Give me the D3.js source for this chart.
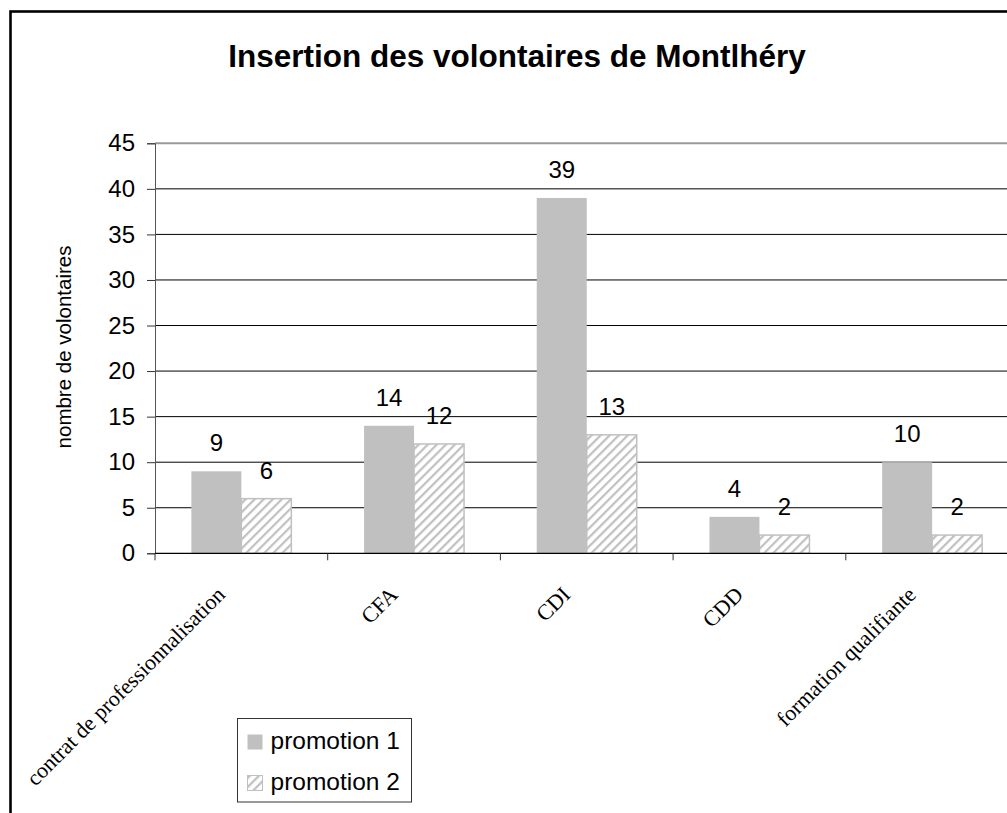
<!DOCTYPE html>
<html>
<head>
<meta charset="utf-8">
<script src="https://cdn.jsdelivr.net/npm/d3@7"></script>
<style>
  html, body { margin: 0; padding: 0; background: #fff; overflow: hidden; }
  svg { display: block; }
</style>
</head>
<body>
<div id="chart"></div>
<script>
const categories = ["contrat de professionnalisation", "CFA", "CDI", "CDD", "formation qualifiante"];
const seriesNames = ["promotion 1", "promotion 2"];
const promotion1 = [9, 14, 39, 4, 10];
const promotion2 = [6, 12, 13, 2, 2];
const yTicks = [0, 5, 10, 15, 20, 25, 30, 35, 40, 45];

const width = 1007, height = 813;
const plot = {left: 155, right: 1018.5, top: 143.3, bottom: 553.3};

const svg = d3.select("#chart").append("svg")
  .attr("width", width)
  .attr("height", height);

// hatch for promotion 2
const defs = svg.append("defs");
const pat = defs.append("pattern")
  .attr("id", "hatch")
  .attr("patternUnits", "userSpaceOnUse")
  .attr("width", 6.4)
  .attr("height", 6.4)
  .attr("patternTransform", "rotate(45)");
pat.append("rect").attr("width", 6.4).attr("height", 6.4).attr("fill", "#fff");
pat.append("rect").attr("x", 0).attr("width", 2.2).attr("height", 6.4).attr("fill", "#c0c0c0");

// outer frame
svg.append("rect")
  .attr("x", 10.5).attr("y", 11.5)
  .attr("width", 1014).attr("height", 830)
  .attr("fill", "none")
  .attr("stroke", "#000")
  .attr("stroke-width", 2.6);

svg.append("text")
  .attr("x", 517).attr("y", 66.7)
  .attr("text-anchor", "middle")
  .attr("font-family", "Arial, 'Liberation Sans', sans-serif")
  .attr("font-weight", "bold")
  .attr("font-size", 31.5)
  .text("Insertion des volontaires de Montlhéry");

const x = d3.scaleBand().domain(categories).range([plot.left, plot.right]).paddingInner(0).paddingOuter(0);
const xs = d3.scaleBand().domain(seriesNames).range([0, x.bandwidth()]).paddingInner(0).paddingOuter(0.727);
const y = d3.scaleLinear().domain([0, 45]).range([plot.bottom, plot.top]);

// gridlines
svg.append("g").selectAll("line")
  .data(yTicks.filter(d => d > 0 && d < 45))
  .join("line")
  .attr("x1", plot.left).attr("x2", plot.right)
  .attr("y1", d => y(d)).attr("y2", d => y(d))
  .attr("stroke", "#000")
  .attr("stroke-width", 1);

// plot top border
svg.append("line")
  .attr("x1", plot.left).attr("x2", plot.right)
  .attr("y1", y(45)).attr("y2", y(45))
  .attr("stroke", "#999").attr("stroke-width", 2);

// bars
const groups = svg.append("g").selectAll("g")
  .data(categories)
  .join("g")
  .attr("transform", d => "translate(" + x(d) + ",0)");

const barData = (c, i) => [
  {s: seriesNames[0], v: promotion1[i]},
  {s: seriesNames[1], v: promotion2[i]}
];

groups.selectAll("rect")
  .data(barData)
  .join("rect")
  .attr("x", d => xs(d.s))
  .attr("width", xs.bandwidth())
  .attr("y", d => y(d.v))
  .attr("height", d => y(0) - y(d.v))
  .attr("fill", d => d.s === seriesNames[0] ? "#c0c0c0" : "url(#hatch)")
  .attr("stroke", d => d.s === seriesNames[0] ? "none" : "#c0c0c0")
  .attr("stroke-width", 1.5);

groups.selectAll("text")
  .data(barData)
  .join("text")
  .attr("x", d => xs(d.s) + xs.bandwidth() / 2)
  .attr("y", d => y(d.v) - 20)
  .attr("text-anchor", "middle")
  .attr("font-family", "Arial, 'Liberation Sans', sans-serif")
  .attr("font-size", 24)
  .text(d => d.v);

// y axis
const yAxis = svg.append("g")
  .attr("transform", "translate(" + plot.left + ",0)")
  .call(d3.axisLeft(y).tickValues(yTicks).tickSize(8).tickPadding(12));
yAxis.select(".domain").attr("stroke", "#555");
yAxis.selectAll(".tick line").attr("stroke", "#333");
yAxis.selectAll(".tick text")
  .attr("font-family", "Arial, 'Liberation Sans', sans-serif")
  .attr("font-size", 24)
  .attr("fill", "#000");

svg.append("text")
  .attr("transform", "translate(71,347) rotate(-90)")
  .attr("text-anchor", "middle")
  .attr("font-family", "Arial, 'Liberation Sans', sans-serif")
  .attr("font-size", 20.5)
  .text("nombre de volontaires");

// x axis
svg.append("line")
  .attr("x1", plot.left).attr("x2", plot.right)
  .attr("y1", y(0)).attr("y2", y(0))
  .attr("stroke", "#000").attr("stroke-width", 1.2);
svg.append("g").selectAll("line")
  .data(categories.map(c => x(c)).concat([plot.right]))
  .join("line")
  .attr("x1", d => d).attr("x2", d => d)
  .attr("y1", y(0)).attr("y2", y(0) + 7)
  .attr("stroke", "#333");

svg.append("g").selectAll("text")
  .data(categories)
  .join("text")
  .attr("transform", d => "translate(" + (x(d) + x.bandwidth() / 2 - 15) + ",596) rotate(-45)")
  .attr("text-anchor", "end")
  .attr("font-family", "'Times New Roman', 'Liberation Serif', serif")
  .attr("font-size", 22)
  .text(d => d);

// legend
const legend = svg.append("g").attr("transform", "translate(237.5,718.5)");
legend.append("rect")
  .attr("width", 174).attr("height", 83.5)
  .attr("fill", "#fff").attr("stroke", "#333").attr("stroke-width", 1);
const items = legend.selectAll("g.item")
  .data(seriesNames)
  .join("g")
  .attr("class", "item")
  .attr("transform", (d, i) => "translate(0," + (i * 41) + ")");
items.append("rect")
  .attr("x", 10).attr("y", 16)
  .attr("width", 15).attr("height", 15)
  .attr("fill", (d, i) => i === 0 ? "#c0c0c0" : "url(#hatch)")
  .attr("stroke", (d, i) => i === 0 ? "none" : "#c0c0c0");
items.append("text")
  .attr("x", 33).attr("y", 30.5)
  .attr("font-family", "Arial, 'Liberation Sans', sans-serif")
  .attr("font-size", 24.5)
  .text(d => d);
</script>
</body>
</html>
